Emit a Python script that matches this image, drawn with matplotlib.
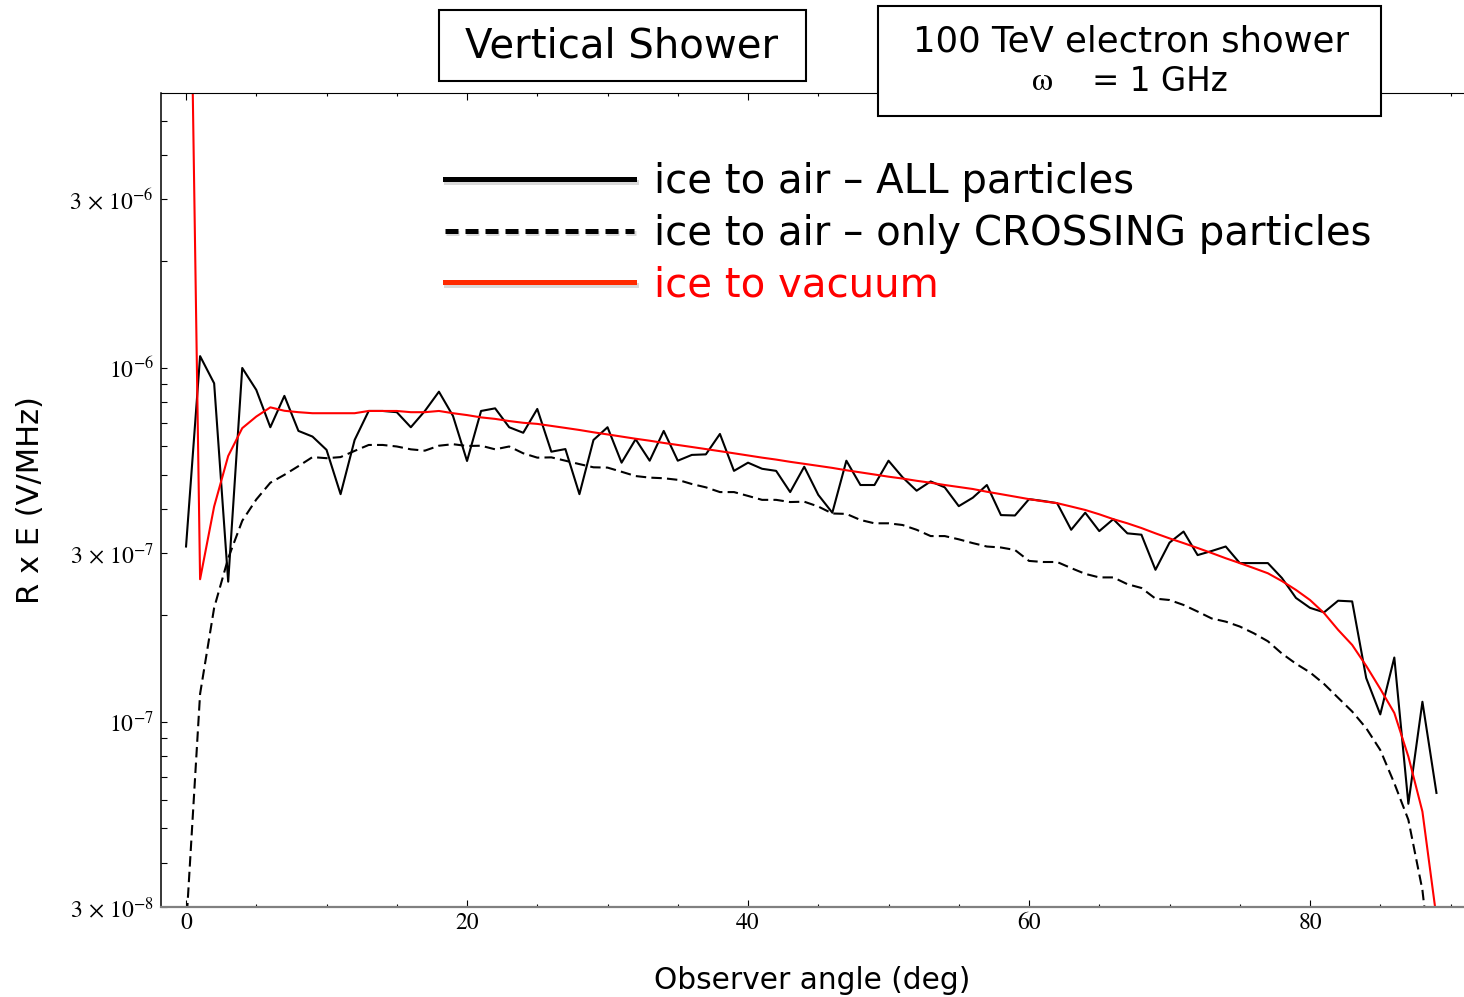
import matplotlib
matplotlib.use('Agg')
import matplotlib.pyplot as plt
import matplotlib.patheffects as pe
from matplotlib.patches import Rectangle
from matplotlib.lines import Line2D
from matplotlib.ticker import FixedLocator, NullFormatter
import numpy as np

plt.rcParams['mathtext.fontset'] = 'stix'

# observer angle (deg)
angle = np.arange(90)

# ice to air - ALL particles
all_particles = [
    3.13e-7, 1.08e-6, 9.05e-7, 2.49e-7, 1.0e-6, 8.67e-7, 6.8e-7, 8.34e-7, 6.64e-7, 6.4e-7,
    5.87e-7, 4.4e-7, 6.26e-7, 7.56e-7, 7.56e-7, 7.5e-7, 6.8e-7, 7.56e-7, 8.57e-7, 7.32e-7,
    5.46e-7, 7.56e-7, 7.69e-7, 6.8e-7, 6.56e-7, 7.66e-7, 5.8e-7, 5.9e-7, 4.4e-7, 6.26e-7,
    6.8e-7, 5.4e-7, 6.29e-7, 5.47e-7, 6.64e-7, 5.47e-7, 5.68e-7, 5.7e-7, 6.51e-7, 5.12e-7,
    5.4e-7, 5.19e-7, 5.12e-7, 4.46e-7, 5.26e-7, 4.38e-7, 3.9e-7, 5.47e-7, 4.67e-7, 4.67e-7,
    5.47e-7, 4.91e-7, 4.5e-7, 4.78e-7, 4.6e-7, 4.07e-7, 4.3e-7, 4.67e-7, 3.84e-7, 3.83e-7,
    4.26e-7, 4.21e-7, 4.15e-7, 3.49e-7, 3.9e-7, 3.46e-7, 3.74e-7, 3.41e-7, 3.38e-7, 2.69e-7,
    3.21e-7, 3.45e-7, 2.96e-7, 3.04e-7, 3.13e-7, 2.81e-7, 2.81e-7, 2.81e-7, 2.55e-7, 2.24e-7,
    2.1e-7, 2.04e-7, 2.2e-7, 2.19e-7, 1.33e-7, 1.05e-7, 1.52e-7, 5.87e-8, 1.14e-7, 6.3e-8]

# ice to air - only CROSSING particles
crossing = [
    2.6e-8, 1.2e-7, 2.1e-7, 2.9e-7, 3.7e-7, 4.25e-7, 4.74e-7, 4.99e-7, 5.28e-7, 5.6e-7,
    5.56e-7, 5.6e-7, 5.83e-7, 6.06e-7, 6.06e-7, 6.0e-7, 5.89e-7, 5.84e-7, 6.03e-7, 6.09e-7,
    6.02e-7, 6.03e-7, 5.89e-7, 6.0e-7, 5.74e-7, 5.58e-7, 5.59e-7, 5.47e-7, 5.35e-7, 5.24e-7,
    5.23e-7, 5.09e-7, 4.95e-7, 4.9e-7, 4.88e-7, 4.83e-7, 4.7e-7, 4.6e-7, 4.46e-7, 4.46e-7,
    4.35e-7, 4.24e-7, 4.24e-7, 4.18e-7, 4.19e-7, 4.06e-7, 3.88e-7, 3.87e-7, 3.72e-7, 3.64e-7,
    3.64e-7, 3.6e-7, 3.49e-7, 3.35e-7, 3.35e-7, 3.28e-7, 3.2e-7, 3.13e-7, 3.11e-7, 3.06e-7,
    2.85e-7, 2.83e-7, 2.83e-7, 2.72e-7, 2.62e-7, 2.56e-7, 2.56e-7, 2.45e-7, 2.39e-7, 2.23e-7,
    2.21e-7, 2.14e-7, 2.05e-7, 1.96e-7, 1.92e-7, 1.86e-7, 1.78e-7, 1.69e-7, 1.56e-7, 1.46e-7,
    1.38e-7, 1.28e-7, 1.17e-7, 1.07e-7, 9.6e-8, 8.33e-8, 6.71e-8, 5.29e-8, 3.35e-8, 1.5e-8]

# ice to vacuum
vacuum = [
    1.1e-4, 2.53e-7, 4.06e-7, 5.64e-7, 6.76e-7, 7.29e-7, 7.74e-7, 7.57e-7, 7.5e-7, 7.45e-7,
    7.45e-7, 7.45e-7, 7.45e-7, 7.56e-7, 7.56e-7, 7.56e-7, 7.5e-7, 7.5e-7, 7.56e-7, 7.45e-7,
    7.36e-7, 7.25e-7, 7.18e-7, 7.08e-7, 7.0e-7, 6.95e-7, 6.86e-7, 6.77e-7, 6.68e-7, 6.58e-7,
    6.49e-7, 6.4e-7, 6.31e-7, 6.23e-7, 6.14e-7, 6.06e-7, 5.98e-7, 5.9e-7, 5.82e-7, 5.74e-7,
    5.66e-7, 5.58e-7, 5.51e-7, 5.43e-7, 5.36e-7, 5.29e-7, 5.22e-7, 5.14e-7, 5.07e-7, 5.0e-7,
    4.93e-7, 4.87e-7, 4.8e-7, 4.74e-7, 4.67e-7, 4.61e-7, 4.55e-7, 4.47e-7, 4.4e-7, 4.33e-7,
    4.26e-7, 4.2e-7, 4.15e-7, 4.06e-7, 3.97e-7, 3.86e-7, 3.74e-7, 3.64e-7, 3.53e-7, 3.41e-7,
    3.3e-7, 3.2e-7, 3.1e-7, 3.0e-7, 2.9e-7, 2.81e-7, 2.72e-7, 2.63e-7, 2.5e-7, 2.36e-7,
    2.21e-7, 2.03e-7, 1.82e-7, 1.65e-7, 1.44e-7, 1.24e-7, 1.06e-7, 7.98e-8, 5.58e-8, 2.8e-8]

labels = ['ice to air \u2013 ALL particles',
          'ice to air \u2013 only CROSSING particles',
          'ice to vacuum']

ymajor = [3e-8, 1e-7, 3e-7, 1e-6, 3e-6]
ymajor_labels = [r'$3\,\times\,10^{-8}$', r'$10^{-7}$', r'$3\,\times\,10^{-7}$',
                 r'$10^{-6}$', r'$3\,\times\,10^{-6}$']
yminor = [4e-8, 5e-8, 6e-8, 7e-8, 8e-8, 9e-8, 2e-7, 4e-7, 5e-7, 6e-7, 7e-7,
          8e-7, 9e-7, 2e-6, 4e-6, 5e-6]

fig = plt.figure(figsize=(14.64, 9.97), dpi=100)
ax = fig.add_axes([0.1098, 0.0903, 0.8902, 0.8161])

ax.plot(angle, all_particles, color='black', lw=1.5)
ax.plot(angle, crossing, color='black', lw=1.5, ls=(0, (5, 2.5)))
ax.plot(angle, vacuum, color='red', lw=1.5)

ax.set_yscale('log')
ax.set_xlim(-1.8, 90.96)
ax.set_ylim(3.0e-8, 5.97e-6)

ax.yaxis.set_major_locator(FixedLocator(ymajor))
ax.set_yticklabels(ymajor_labels)
ax.yaxis.set_minor_locator(FixedLocator(yminor))
ax.yaxis.set_minor_formatter(NullFormatter())
ax.set_xticks([0, 20, 40, 60, 80])
ax.set_xticks(np.arange(0, 91, 5), minor=True)

ax.tick_params(axis='y', which='both', direction='in', length=4.5, width=0.8,
               labelsize=17, pad=5, right=False)
ax.tick_params(axis='x', which='major', direction='in', length=5, width=0.8,
               labelsize=17, pad=4, top=True)
ax.tick_params(axis='x', which='minor', direction='in', length=2.5, width=0.8, top=True)
for t in ax.get_xticklabels() + ax.get_yticklabels():
    t.set_fontfamily('STIXGeneral')

ax.spines['right'].set_visible(False)
ax.spines['bottom'].set_color('#808080')
ax.spines['bottom'].set_linewidth(1.6)
ax.spines['left'].set_linewidth(1.1)
ax.spines['top'].set_linewidth(0.8)

shadow = [pe.SimpleLineShadow(offset=(1, -2), alpha=0.15), pe.Normal()]
handles = [Line2D([], [], color='black', lw=3.6, path_effects=shadow),
           Line2D([], [], color='black', lw=3.6, ls=(0, (2.6, 1.4)), path_effects=shadow),
           Line2D([], [], color='#ff2a00', lw=3.6, path_effects=shadow)]
ax.legend(handles, labels, loc='upper left', bbox_to_anchor=(0.218, 0.915),
          frameon=False, fontsize=29, handlelength=4.7, handletextpad=0.5,
          labelspacing=0.28, borderpad=0, borderaxespad=0,
          labelcolor=['black', 'black', 'red'])

fig.text(0.5546, 0.017, 'Observer angle (deg)', ha='center', va='center', fontsize=21.3)
fig.text(0.0205, 0.4985, 'R x E (V/MHz)', ha='center', va='center', rotation=90, fontsize=22)

# title boxes
fig.patches.append(Rectangle((0.2999, 0.9188), 0.2507, 0.0712, transform=fig.transFigure,
                             facecolor='white', edgecolor='black', lw=1.5, zorder=5))
fig.patches.append(Rectangle((0.5997, 0.8837), 0.3436, 0.1103, transform=fig.transFigure,
                             facecolor='white', edgecolor='black', lw=1.5, zorder=5))
fig.text(0.4249, 0.9529, 'Vertical Shower', ha='center', va='center', fontsize=29, zorder=6)
fig.text(0.7725, 0.9579, '100 TeV electron shower', ha='center', va='center', fontsize=25.5, zorder=6)
fig.text(0.7124, 0.9178, '\u03c9', ha='center', va='center', fontsize=24,
         family='STIXGeneral', zorder=6)
fig.text(0.7459, 0.9178, '= 1 GHz', ha='left', va='center', fontsize=23.5, zorder=6)

fig.savefig('out.png', dpi=100)
